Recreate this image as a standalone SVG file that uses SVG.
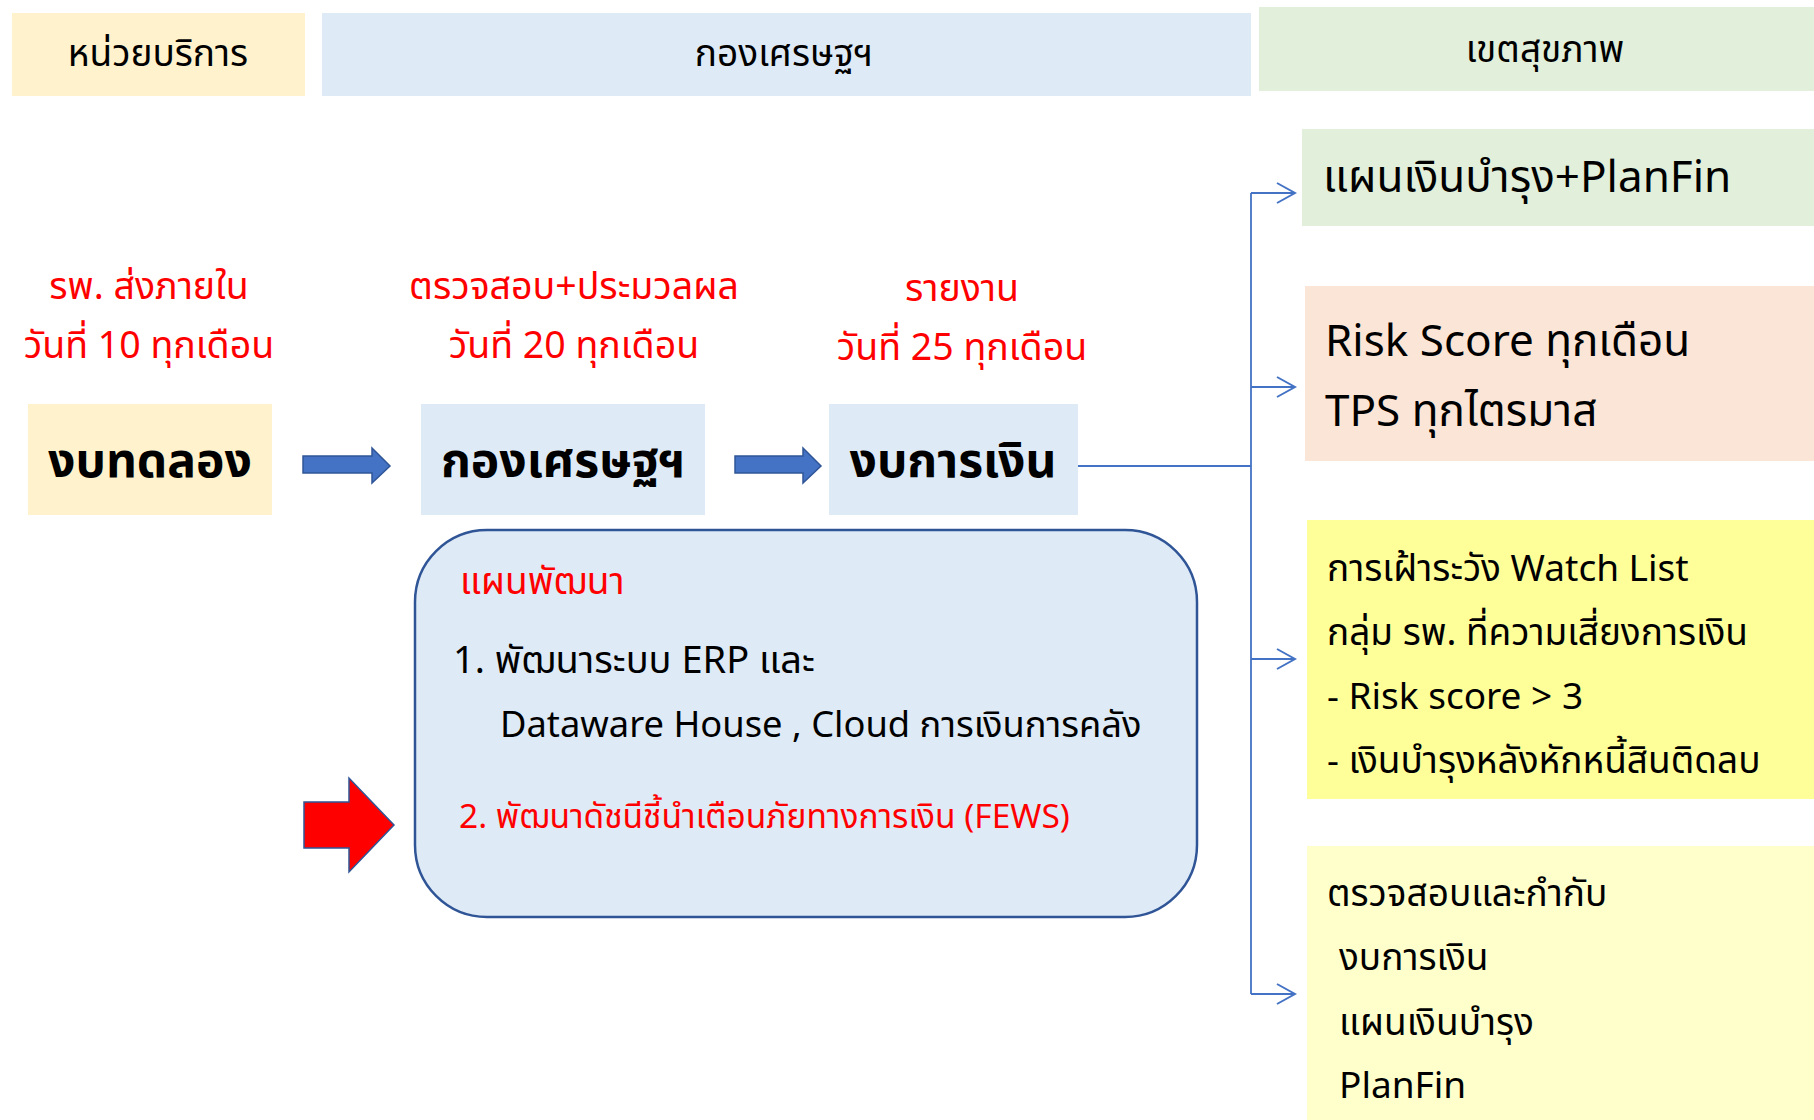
<svg xmlns="http://www.w3.org/2000/svg" width="1814" height="1120" viewBox="0 0 1814 1120">
<defs>
<marker id="openArrow" markerWidth="22" markerHeight="22" refX="20" refY="11" orient="auto" markerUnits="userSpaceOnUse">
<path d="M2,1 L20,11 L2,21" fill="none" stroke="#4472C4" stroke-width="2"/>
</marker>
</defs>
<style>
text{font-family:"Leelawadee UI","Tahoma","Noto Sans Thai","Noto Sans",sans-serif;}
.hdr{font-size:37px;fill:#000;text-anchor:middle;}
.red{font-size:37.5px;fill:#FF0000;text-anchor:middle;}
.big{font-size:48px;font-weight:bold;fill:#000;text-anchor:middle;}
.rt{font-size:44px;fill:#000;}
.rt2{font-size:37px;fill:#000;}
.conn{fill:none;stroke:#4472C4;stroke-width:1.8;}
.barrow{fill:#4472C4;stroke:#2F5597;stroke-width:1.5;}
</style>
<rect width="1814" height="1120" fill="#FFFFFF"/>

<g id="header-unit">
<rect x="12" y="13" width="293" height="83" fill="#FFF2CC"/>
<text class="hdr" x="158" y="66">หน่วยบริการ</text>
</g>
<g id="header-division">
<rect x="322" y="13" width="929" height="83" fill="#DEEBF7"/>
<text class="hdr" x="784" y="66">กองเศรษฐฯ</text>
</g>
<g id="header-region">
<rect x="1259" y="7" width="555" height="84" fill="#E2EFDA"/>
<text class="hdr" x="1545" y="62">เขตสุขภาพ</text>
</g>

<g id="label-send">
<text class="red" x="149" y="299">รพ. ส่งภายใน</text>
<text class="red" x="149" y="358">วันที่ 10 ทุกเดือน</text>
</g>
<g id="label-check">
<text class="red" x="574" y="299">ตรวจสอบ+ประมวลผล</text>
<text class="red" x="574" y="358">วันที่ 20 ทุกเดือน</text>
</g>
<g id="label-report">
<text class="red" x="962" y="301">รายงาน</text>
<text class="red" x="962" y="360">วันที่ 25 ทุกเดือน</text>
</g>

<g id="node-trial">
<rect x="28" y="404" width="244" height="111" fill="#FFF2CC"/>
<text class="big" x="150" y="477">งบทดลอง</text>
</g>
<g id="node-division">
<rect x="421" y="404" width="284" height="111" fill="#DEEBF7"/>
<text class="big" x="563" y="477">กองเศรษฐฯ</text>
</g>
<g id="node-finstmt">
<rect x="829" y="404" width="249" height="111" fill="#DEEBF7"/>
<text class="big" x="953" y="477">งบการเงิน</text>
</g>

<g id="node-plan">
<rect x="415" y="530" width="782" height="387" rx="72" ry="72" fill="#DEEBF7" stroke="#2F5597" stroke-width="2.5"/>
<text x="460" y="594" font-size="37" fill="#FF0000">แผนพัฒนา</text>
<text x="453" y="673" font-size="38" fill="#000">1. พัฒนาระบบ ERP และ</text>
<text x="500" y="737" font-size="36.3" fill="#000">Dataware House , Cloud การเงินการคลัง</text>
<text x="459" y="828" font-size="33.5" fill="#FF0000">2. พัฒนาดัชนีชี้นำเตือนภัยทางการเงิน (FEWS)</text>
</g>

<g id="node-planfin">
<rect x="1302" y="129" width="512" height="97" fill="#E2EFDA"/>
<text class="rt" x="1323" y="192">แผนเงินบำรุง+PlanFin</text>
</g>
<g id="node-risk">
<rect x="1305" y="286" width="509" height="175" fill="#FBE5D6"/>
<text class="rt" x="1325" y="356">Risk Score ทุกเดือน</text>
<text class="rt" x="1325" y="426">TPS ทุกไตรมาส</text>
</g>
<g id="node-watch">
<rect x="1307" y="520" width="507" height="279" fill="#FFFF99"/>
<text class="rt2" x="1327" y="581">การเฝ้าระวัง Watch List</text>
<text class="rt2" x="1327" y="645">กลุ่ม รพ. ที่ความเสี่ยงการเงิน</text>
<text class="rt2" x="1327" y="709">- Risk score &gt; 3</text>
<text class="rt2" x="1327" y="773">- เงินบำรุงหลังหักหนี้สินติดลบ</text>
</g>
<g id="node-audit">
<rect x="1307" y="846" width="507" height="274" fill="#FFFFCC"/>
<text class="rt2" x="1327" y="906" font-size="38">ตรวจสอบและกำกับ</text>
<text class="rt2" x="1339" y="970">งบการเงิน</text>
<text class="rt2" x="1339" y="1035">แผนเงินบำรุง</text>
<text class="rt2" x="1339" y="1098">PlanFin</text>
</g>

<g id="connectors">
<path class="barrow" d="M303,456 L372,456 L372,448 L390,466 L372,483 L372,473 L303,473 Z"/>
<path class="barrow" d="M735,456 L803,456 L803,448 L821,466 L803,483 L803,473 L735,473 Z"/>
<path d="M304,802 L349,802 L349,778 L394,825 L349,872 L349,848 L304,848 Z" fill="#FF0000" stroke="#2F5597" stroke-width="1.5"/>
<path class="conn" d="M1078,466 L1251,466"/>
<path class="conn" d="M1251,193 L1251,994"/>
<path class="conn" d="M1251,193 L1295,193" marker-end="url(#openArrow)"/>
<path class="conn" d="M1251,387 L1295,387" marker-end="url(#openArrow)"/>
<path class="conn" d="M1251,659 L1295,659" marker-end="url(#openArrow)"/>
<path class="conn" d="M1251,994 L1295,994" marker-end="url(#openArrow)"/>
</g>
</svg>
